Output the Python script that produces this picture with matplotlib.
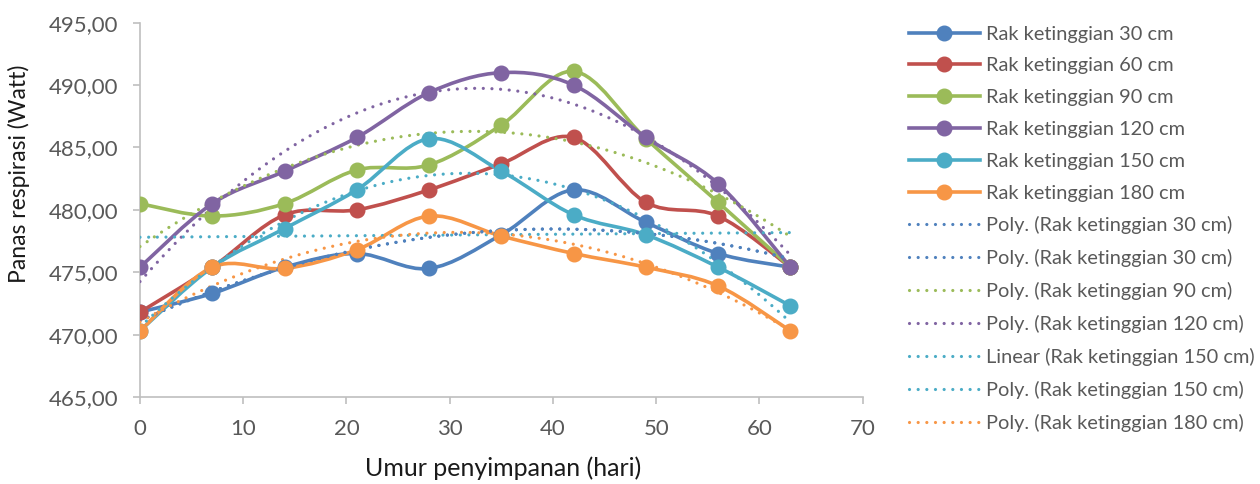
import numpy as np
import matplotlib.pyplot as plt
from matplotlib.path import Path
from matplotlib.patches import PathPatch
from matplotlib.lines import Line2D
from matplotlib.ticker import FuncFormatter, MultipleLocator

plt.rcParams['font.family'] = ['Lato', 'DejaVu Sans']

# -----------------------------
# Data: respiration heat per shelf height
# -----------------------------

days = [0, 7, 14, 21, 28, 35, 42, 49, 56, 63]

rak_30 = [471.8, 473.3, 475.4, 476.5, 475.3, 478.0, 481.6, 479.0, 476.5, 475.4]
rak_60 = [471.8, 475.4, 479.6, 480.0, 481.6, 483.7, 485.8, 480.6, 479.5, 475.4]
rak_90 = [480.5, 479.5, 480.5, 483.2, 483.6, 486.8, 491.1, 485.7, 480.6, 475.4]
rak_120 = [475.4, 480.5, 483.1, 485.8, 489.4, 491.0, 490.0, 485.8, 482.1, 475.4]
rak_150 = [470.3, 475.4, 478.5, 481.6, 485.7, 483.1, 479.6, 478.0, 475.4, 472.3]
rak_180 = [470.3, 475.4, 475.3, 476.8, 479.5, 477.9, 476.5, 475.4, 473.9, 470.3]

series_names = ["Rak ketinggian 30 cm", "Rak ketinggian 60 cm", "Rak ketinggian 90 cm",
                "Rak ketinggian 120 cm", "Rak ketinggian 150 cm", "Rak ketinggian 180 cm"]
series_values = [rak_30, rak_60, rak_90, rak_120, rak_150, rak_180]
colors = ["#4F81BD", "#C0504D", "#9BBB59", "#8064A2", "#4BACC6", "#F79646"]

# trendlines: (series index, fit order, legend label)
trends = [
    (0, 2, "Poly. (Rak ketinggian 30 cm)"),
    (0, 2, "Poly. (Rak ketinggian 30 cm)"),
    (2, 2, "Poly. (Rak ketinggian 90 cm)"),
    (3, 2, "Poly. (Rak ketinggian 120 cm)"),
    (4, 1, "Linear (Rak ketinggian 150 cm)"),
    (4, 2, "Poly. (Rak ketinggian 150 cm)"),
    (5, 2, "Poly. (Rak ketinggian 180 cm)"),
]


def smooth_path(x, y):
    # cubic bezier segments through every point (smoothed line style)
    n = len(x)
    verts = [(x[0], y[0])]
    codes = [Path.MOVETO]
    for i in range(n - 1):
        a = max(i - 1, 0)
        b = min(i + 2, n - 1)
        c1 = (x[i] + (x[i + 1] - x[a]) / 6, y[i] + (y[i + 1] - y[a]) / 6)
        c2 = (x[i + 1] - (x[b] - x[i]) / 6, y[i + 1] - (y[b] - y[i]) / 6)
        verts += [c1, c2, (x[i + 1], y[i + 1])]
        codes += [Path.CURVE4] * 3
    return Path(verts, codes)


fig = plt.figure(figsize=(12.6, 4.84), dpi=100)
ax = fig.add_axes([0.1111, 0.1798, 0.5736, 0.7733])

lw = 2.6
dot_lw = 2.3
dots = (0, (0.01, 2.7))
for name, vals, c in zip(series_names, series_values, colors):
    ax.add_patch(PathPatch(smooth_path(days, vals), fill=False, edgecolor=c,
                           lw=lw, capstyle='round', joinstyle='round', zorder=2))
    ax.plot(days, vals, 'o', color=c, markersize=10.5, zorder=4)

xs = np.linspace(days[0], days[-1], 300)
for idx, order, label in trends:
    coef = np.polyfit(days, series_values[idx], order)
    ax.plot(xs, np.polyval(coef, xs), color=colors[idx], lw=dot_lw,
            linestyle=dots, dash_capstyle='round', zorder=3)

ax.set_xlim(0, 70)
ax.set_ylim(465, 495)
ax.xaxis.set_major_locator(MultipleLocator(10))
ax.yaxis.set_major_locator(MultipleLocator(5))
ax.yaxis.set_major_formatter(FuncFormatter(lambda v, p: f"{v:.2f}".replace(".", ",")))

for s in ["top", "right"]:
    ax.spines[s].set_visible(False)
for s in ["left", "bottom"]:
    ax.spines[s].set_color("#BFBFBF")
    ax.spines[s].set_linewidth(1.2)
ax.tick_params(colors="#BFBFBF", length=5, width=1.2, labelcolor="#595959",
               labelsize=16)
ax.tick_params(axis="x", pad=10.5)
ax.tick_params(axis="y", pad=10.5)

ax.set_xlabel("Umur penyimpanan (hari)", fontsize=18, color="#1A1A1A")
ax.set_ylabel("Panas respirasi (Watt)", fontsize=16.5, color="#1A1A1A")
ax.xaxis.set_label_coords(0.5025, -0.16)
ax.yaxis.set_label_coords(-0.152, 0.595)

# -----------------------------
# Legend
# -----------------------------

handles = []
labels = []
for name, c in zip(series_names, colors):
    handles.append(Line2D([], [], color=c, lw=lw, marker='o', markersize=10.5))
    labels.append(name)
for idx, order, label in trends:
    handles.append(Line2D([], [], color=colors[idx], lw=dot_lw,
                          linestyle=dots, dash_capstyle='round'))
    labels.append(label)

fig.legend(handles, labels, loc="upper left", bbox_to_anchor=(0.7069, 0.9844),
           frameon=False, fontsize=14.4, labelcolor="#595959",
           handlelength=3.55, labelspacing=0.74, handletextpad=0.3)

fig.savefig("out.png", dpi=100)
